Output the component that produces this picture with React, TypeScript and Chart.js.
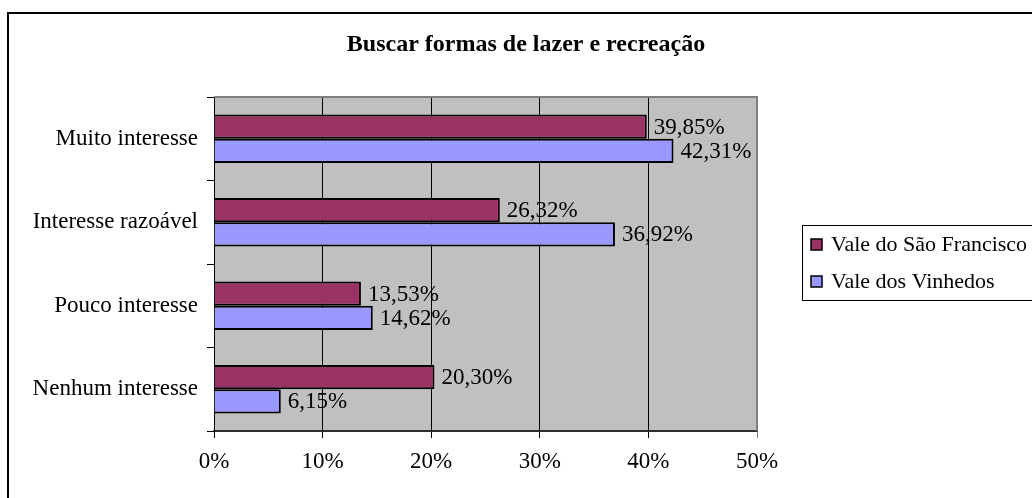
import React, { useEffect, useRef } from "react";
import { Chart, registerables } from "chart.js";

Chart.register(...registerables);

const title = "Buscar formas de lazer e recreação";
const categories = ["Muito interesse", "Interesse razoável", "Pouco interesse", "Nenhum interesse"];
const seriesNames = ["Vale do São Francisco", "Vale dos Vinhedos"];
const saoFrancisco = [39.85, 26.32, 13.53, 20.3];
const vinhedos = [42.31, 36.92, 14.62, 6.15];
const seriesColors = ["#993366", "#9999FF"];
const xMax = 50;
const xStep = 10;

const FONT = "'Liberation Serif', 'Times New Roman', serif";

const fmt = (v: number) => v.toFixed(2).replace(".", ",") + "%";

const decorPlugin = {
  id: "decor",
  beforeDraw(chart: any) {
    const { ctx, chartArea: a } = chart;
    ctx.save();
    ctx.fillStyle = "#ffffff";
    ctx.fillRect(0, 0, chart.width, chart.height);
    // outer frame (top and left edges visible)
    ctx.fillStyle = "#000000";
    ctx.fillRect(7, 12, chart.width, 2);
    ctx.fillRect(7, 12, 2, chart.height);
    // plot background
    ctx.fillStyle = "#C0C0C0";
    ctx.fillRect(a.left, a.top, a.right - a.left, a.bottom - a.top);
    ctx.restore();
  },
  afterDraw(chart: any) {
    const { ctx, chartArea: a } = chart;
    ctx.save();
    // plot top/right border
    ctx.strokeStyle = "#808080";
    ctx.lineWidth = 2;
    ctx.beginPath();
    ctx.moveTo(a.left, a.top);
    ctx.lineTo(a.right, a.top);
    ctx.lineTo(a.right, a.bottom);
    ctx.stroke();
    // title
    ctx.fillStyle = "#000";
    ctx.font = `bold 24px ${FONT}`;
    ctx.textAlign = "center";
    ctx.textBaseline = "alphabetic";
    ctx.fillText(title, 526, 51);
    // legend
    const lx = 802, ly = 225;
    ctx.strokeStyle = "#000";
    ctx.lineWidth = 1;
    ctx.strokeRect(lx + 0.5, ly + 0.5, 260, 75);
    ctx.font = `22px ${FONT}`;
    ctx.textAlign = "left";
    ctx.textBaseline = "middle";
    const rows = [245, 282];
    seriesNames.forEach((name, i) => {
      const cy = rows[i];
      ctx.fillStyle = seriesColors[i];
      ctx.fillRect(811, cy - 6, 11, 11);
      ctx.strokeStyle = "#000";
      ctx.lineWidth = 1.5;
      ctx.strokeRect(811, cy - 6, 11, 11);
      ctx.fillStyle = "#000";
      ctx.fillText(name, 831, cy);
    });
    ctx.restore();
  },
  afterDatasetsDraw(chart: any) {
    const { ctx } = chart;
    ctx.save();
    ctx.fillStyle = "#000";
    ctx.font = `23px ${FONT}`;
    ctx.textAlign = "left";
    ctx.textBaseline = "middle";
    chart.data.datasets.forEach((ds: any, di: number) => {
      const meta = chart.getDatasetMeta(di);
      meta.data.forEach((bar: any, i: number) => {
        ctx.fillText(fmt(ds.data[i]), bar.x + 7, bar.y + 1);
      });
    });
    ctx.restore();
  },
};

export default function App() {
  const ref = useRef<HTMLCanvasElement>(null);
  useEffect(() => {
    if (!ref.current) return;
    const chart = new Chart(ref.current, {
      type: "bar",
      data: {
        labels: categories,
        datasets: [
          {
            label: seriesNames[0],
            data: saoFrancisco,
            backgroundColor: seriesColors[0],
            borderColor: "#000",
            borderWidth: 2,
            categoryPercentage: 0.58,
            barPercentage: 1,
          },
          {
            label: seriesNames[1],
            data: vinhedos,
            backgroundColor: seriesColors[1],
            borderColor: "#000",
            borderWidth: 2,
            categoryPercentage: 0.58,
            barPercentage: 1,
          },
        ],
      },
      options: {
        indexAxis: "y",
        responsive: false,
        animation: false,
        devicePixelRatio: 1,
        layout: { padding: { left: 0, top: 97, right: 275, bottom: 0 } },
        plugins: {
          legend: { display: false },
          title: { display: false },
          tooltip: { enabled: false },
        },
        scales: {
          x: {
            min: 0,
            max: xMax,
            ticks: {
              stepSize: xStep,
              color: "#000",
              font: { family: FONT, size: 23 },
              padding: 10,
              maxRotation: 0,
              callback: (v: any) => `${v}%`,
            },
            grid: {
              color: (c: any) => (c.tick && c.tick.value === xMax ? "#808080" : "#000"),
              lineWidth: 1,
              tickLength: 7,
              drawTicks: true,
            },
            border: { display: true, color: "#303030", width: 2 },
            afterFit: (s: any) => {
              s.height = 67;
            },
          },
          y: {
            ticks: {
              color: "#000",
              font: { family: FONT, size: 23 },
              padding: 9,
            },
            grid: {
              drawOnChartArea: false,
              drawTicks: true,
              tickLength: 7,
              color: "#000",
              offset: true,
            },
            border: { display: true, color: "#000", width: 1 },
            afterFit: (s: any) => {
              s.width = 214;
            },
          },
        },
      },
      plugins: [decorPlugin],
    } as any);
    return () => chart.destroy();
  }, []);
  return (
    <div style={{ position: "absolute", left: 0, top: 0, width: 1032, height: 498 }}>
      <canvas ref={ref} width={1032} height={498} style={{ display: "block" }} />
    </div>
  );
}
